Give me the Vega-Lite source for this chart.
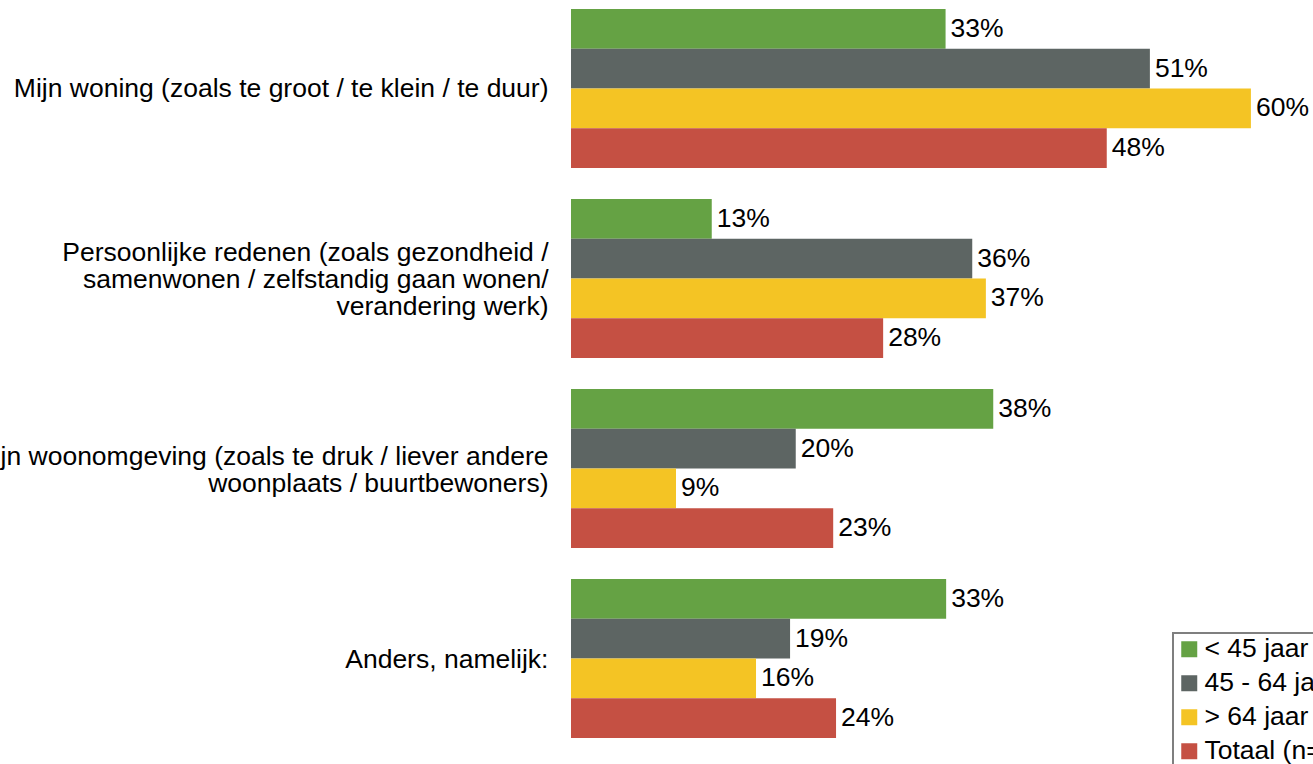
{
  "$schema": "https://vega.github.io/schema/vega-lite/v6.json",
  "autosize": {"type": "none"},
  "padding": {"top": 9, "left": 571, "right": 0, "bottom": 26},
  "width": 742,
  "height": 729,
  "background": "white",
  "config": {
    "view": {"stroke": null},
    "font": "Liberation Sans"
  },
  "data": {
    "values": [
      {"reden": "Mijn woning (zoals te groot / te klein / te duur)", "groep": "< 45 jaar", "waarde": 33.0, "label": "33%"},
      {"reden": "Mijn woning (zoals te groot / te klein / te duur)", "groep": "45 - 64 jaar", "waarde": 51.0, "label": "51%"},
      {"reden": "Mijn woning (zoals te groot / te klein / te duur)", "groep": "> 64 jaar", "waarde": 59.9, "label": "60%"},
      {"reden": "Mijn woning (zoals te groot / te klein / te duur)", "groep": "Totaal (n=…)", "waarde": 47.2, "label": "48%"},
      {"reden": "Persoonlijke redenen (zoals gezondheid /|samenwonen / zelfstandig gaan wonen/|verandering werk)", "groep": "< 45 jaar", "waarde": 12.4, "label": "13%"},
      {"reden": "Persoonlijke redenen (zoals gezondheid /|samenwonen / zelfstandig gaan wonen/|verandering werk)", "groep": "45 - 64 jaar", "waarde": 35.35, "label": "36%"},
      {"reden": "Persoonlijke redenen (zoals gezondheid /|samenwonen / zelfstandig gaan wonen/|verandering werk)", "groep": "> 64 jaar", "waarde": 36.55, "label": "37%"},
      {"reden": "Persoonlijke redenen (zoals gezondheid /|samenwonen / zelfstandig gaan wonen/|verandering werk)", "groep": "Totaal (n=…)", "waarde": 27.5, "label": "28%"},
      {"reden": "Mijn woonomgeving (zoals te druk / liever andere|woonplaats / buurtbewoners)", "groep": "< 45 jaar", "waarde": 37.2, "label": "38%"},
      {"reden": "Mijn woonomgeving (zoals te druk / liever andere|woonplaats / buurtbewoners)", "groep": "45 - 64 jaar", "waarde": 19.8, "label": "20%"},
      {"reden": "Mijn woonomgeving (zoals te druk / liever andere|woonplaats / buurtbewoners)", "groep": "> 64 jaar", "waarde": 9.25, "label": "9%"},
      {"reden": "Mijn woonomgeving (zoals te druk / liever andere|woonplaats / buurtbewoners)", "groep": "Totaal (n=…)", "waarde": 23.1, "label": "23%"},
      {"reden": "Anders, namelijk:", "groep": "< 45 jaar", "waarde": 33.05, "label": "33%"},
      {"reden": "Anders, namelijk:", "groep": "45 - 64 jaar", "waarde": 19.3, "label": "19%"},
      {"reden": "Anders, namelijk:", "groep": "> 64 jaar", "waarde": 16.3, "label": "16%"},
      {"reden": "Anders, namelijk:", "groep": "Totaal (n=…)", "waarde": 23.35, "label": "24%"}
    ]
  },
  "encoding": {
    "y": {
      "field": "reden",
      "type": "nominal",
      "sort": null,
      "scale": {"paddingInner": 0.1632, "paddingOuter": 0},
      "axis": {
        "title": null,
        "domain": false,
        "ticks": false,
        "labelPadding": 23,
        "labelFontSize": 26.5,
        "labelLineHeight": 27,
        "labelColor": "#000000",
        "labelLimit": 3000,
        "labelExpr": "split(datum.label, '|')",
        "labelOffset": {
          "condition": [
            {"test": "length(split(datum.value, '|')) == 3", "value": -25},
            {"test": "length(split(datum.value, '|')) == 2", "value": -12}
          ],
          "value": 1
        }
      }
    },
    "yOffset": {
      "field": "groep",
      "type": "nominal",
      "sort": null,
      "scale": {"paddingInner": 0, "paddingOuter": 0}
    },
    "x": {
      "field": "waarde",
      "type": "quantitative",
      "scale": {"domain": [0, 65.37], "nice": false},
      "axis": null
    }
  },
  "layer": [
    {
      "mark": {"type": "bar"},
      "encoding": {
        "color": {
          "field": "groep",
          "type": "nominal",
          "sort": null,
          "scale": {
            "domain": ["< 45 jaar", "45 - 64 jaar", "> 64 jaar", "Totaal (n=…)"],
            "range": ["#65a244", "#5d6563", "#f4c424", "#c55043"]
          },
          "legend": {
            "title": null,
            "orient": "none",
            "legendX": 602,
            "legendY": 624,
            "padding": 3,
            "strokeColor": "#7f7f7f",
            "fillColor": "white",
            "symbolType": "square",
            "symbolSize": 256,
            "symbolStrokeWidth": 0,
            "symbolOpacity": 1,
            "labelFontSize": 26.5,
            "labelColor": "#000000",
            "labelOffset": 2,
            "labelLimit": 1000,
            "rowPadding": 7,
            "encode": {
              "legend": {"update": {"strokeWidth": {"value": 2}}}
            }
          }
        }
      }
    },
    {
      "mark": {
        "type": "text",
        "align": "left",
        "baseline": "middle",
        "dx": 5,
        "fontSize": 26.5,
        "color": "#000000"
      },
      "encoding": {
        "text": {"field": "label", "type": "nominal"}
      }
    }
  ]
}
